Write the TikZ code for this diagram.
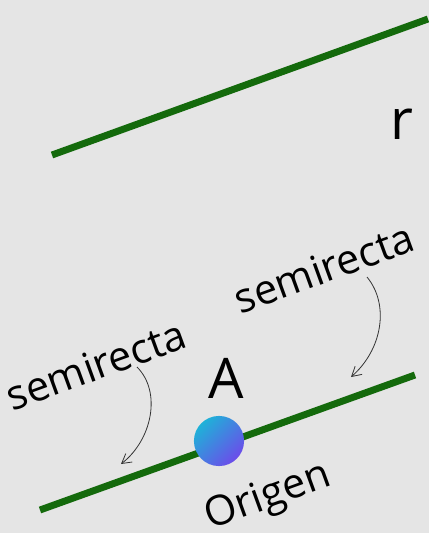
\documentclass[tikz,border=0pt]{standalone}
\usepackage{fontspec}
\setmainfont{Open Sans}
\usetikzlibrary{arrows.meta}
\definecolor{bg}{RGB}{229,229,229}
\definecolor{lgreen}{RGB}{20,106,12}
\definecolor{dotA}{RGB}{30,178,216}
\definecolor{dotB}{RGB}{108,76,234}
\tikzset{
  rayline/.style={draw=lgreen, line width=5.2pt},
  bigtxt/.style={inner sep=0pt, font=\fontsize{42}{48}\selectfont},
  midtxt/.style={inner sep=0pt, font=\fontsize{31}{36}\selectfont, rotate=20},
  pointer/.style={draw=black!80, line width=0.6pt, -{Straight Barb[length=7pt,width=8pt]}},
}
\begin{document}
\begin{tikzpicture}[x=0.75pt,y=-0.75pt]
\fill[bg] (0,0) rectangle (429,533);
\useasboundingbox (0,0) rectangle (429,533);
% line r
\coordinate (r1) at (52,155);
\coordinate (r2) at (428,19);
\draw[rayline] (r1) -- (r2);
\node[bigtxt] (rlab) at (402,124) {r};
% lower line
\coordinate (s1) at (40,510);
\coordinate (s2) at (415,375);
\draw[rayline] (s1) -- (s2);
% point A
\shade[top color=dotA, bottom color=dotB, shading angle=45] (219,441) circle[radius=18.8pt];
\node[bigtxt] (Alab) at (226,378) {A};
\node[midtxt] (orig) at (268,498) {Origen};
% semirecta labels
\node[midtxt] (semL) at (96,365) {semirecta};
\node[midtxt] (semR) at (324,268) {semirecta};
\coordinate (tipL) at (121,464);
\coordinate (tipR) at (351,377);
\draw[pointer] (137,367) .. controls (162,392) and (152,440) .. (tipL);
\draw[pointer] (367,277) .. controls (390,305) and (382,350) .. (tipR);
\end{tikzpicture}
\end{document}
